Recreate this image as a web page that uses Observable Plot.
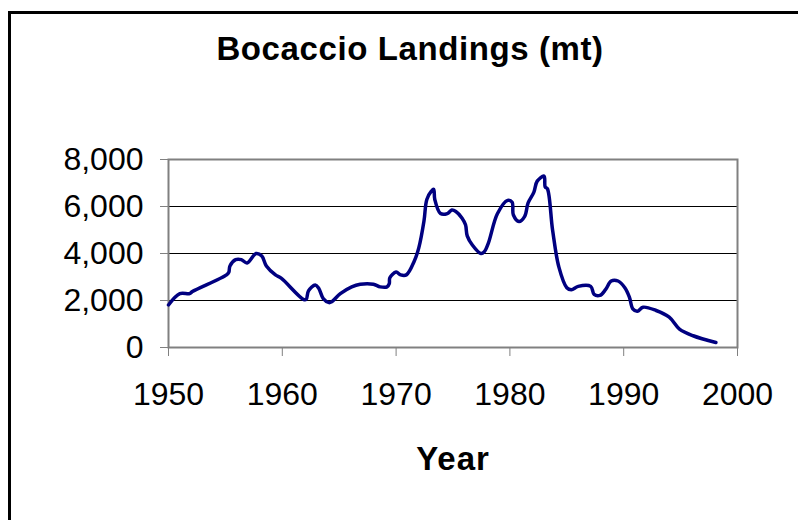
<!DOCTYPE html>
<html>
<head>
<meta charset="utf-8">
<script src="https://cdn.jsdelivr.net/npm/d3@7"></script>
<script src="https://cdn.jsdelivr.net/npm/@observablehq/plot@0.6"></script>
<style>
  html, body { margin: 0; padding: 0; background: #fff; }
  body { width: 798px; height: 520px; overflow: hidden; position: relative; font-family: "Liberation Sans", Arial, sans-serif; }
  #border { position: absolute; left: 8px; top: 11px; width: 900px; height: 700px; border-left: 3px solid #000; border-top: 3px solid #000; box-sizing: border-box; }
  #title { position: absolute; left: 410px; top: 32px; transform: translateX(-50%); font-size: 33px; line-height: 33px; font-weight: bold; white-space: nowrap; letter-spacing: 0.6px; }
  #xlabel { position: absolute; left: 453px; top: 442px; transform: translateX(-50%); font-size: 33px; line-height: 33px; font-weight: bold; white-space: nowrap; letter-spacing: 1px; }
  #chart { position: absolute; left: 0; top: 0; }
</style>
</head>
<body>
<div id="border"></div>
<div id="chart"></div>
<div id="title">Bocaccio Landings (mt)</div>
<div id="xlabel">Year</div>
<script>
const years = [1950, 1951.0, 1951.85, 1952.1, 1955.1, 1955.3, 1955.4, 1955.9, 1956.4, 1956.9, 1957.7, 1958.2, 1958.6, 1959.4, 1959.9, 1961.85, 1962.1, 1962.3, 1962.9, 1963.2, 1963.6, 1964.1, 1964.35, 1965.1, 1966.1, 1966.85, 1968.0, 1968.6, 1969.2, 1969.4, 1969.45, 1970.0, 1970.4, 1970.9, 1971.6, 1972.0, 1972.45, 1972.7, 1973.1, 1973.3, 1973.4, 1973.9, 1974.5, 1974.9, 1975.25, 1975.8, 1976.1, 1976.25, 1976.7, 1977.45, 1977.75, 1978.1, 1978.9, 1979.8, 1980.2, 1980.3, 1980.8, 1981.3, 1981.6, 1982.1, 1982.4, 1983.0, 1983.1, 1983.3, 1983.75, 1984.3, 1985.0, 1985.4, 1986.0, 1987.1, 1987.4, 1987.9, 1988.4, 1988.9, 1989.5, 1990.1, 1990.5, 1990.8, 1991.2, 1991.7, 1992.85, 1994.0, 1994.9, 1996.1, 1998.1];
const landings = [1810, 2290, 2290, 2380, 3090, 3200, 3470, 3740, 3740, 3600, 4000, 3890, 3470, 3090, 2950, 2050, 2050, 2410, 2660, 2520, 2080, 1910, 1950, 2290, 2580, 2690, 2690, 2580, 2580, 2720, 2970, 3210, 3090, 3090, 3680, 4250, 5380, 6300, 6650, 6730, 6300, 5700, 5700, 5850, 5790, 5505, 5220, 4750, 4360, 4000, 4075, 4430, 5690, 6260, 6180, 5650, 5360, 5580, 6150, 6600, 7080, 7290, 6835, 6750, 5000, 3430, 2545, 2460, 2600, 2600, 2260, 2215, 2460, 2830, 2830, 2545, 2145, 1645, 1545, 1715, 1575, 1290, 785, 500, 215];
const xTicks = [1950, 1960, 1970, 1980, 1990, 2000];
const yTicks = [0, 2000, 4000, 6000, 8000];
const gridValues = [2000, 4000, 6000];

const data = years.map((y, i) => ({year: y, value: landings[i]}));
const fmt = d3.format(",");

const chart = Plot.plot({
  width: 798,
  height: 520,
  marginLeft: 168,
  marginRight: 61,
  marginTop: 159,
  marginBottom: 173,
  style: {fontFamily: "'Liberation Sans', Arial, sans-serif", fontSize: "32px", background: "transparent", overflow: "visible"},
  x: {domain: [1950, 2000]},
  y: {domain: [0, 8000]},
  marks: [
    Plot.ruleY(gridValues, {stroke: "#000", strokeWidth: 1}),
    Plot.frame({stroke: "#808080", strokeWidth: 2}),
    Plot.axisX({ticks: xTicks, tickFormat: d => String(d), tickSize: 9, tickPadding: 26, stroke: "#808080", fill: "#000", fontSize: 32, label: null}),
    Plot.axisY({ticks: yTicks, tickFormat: fmt, tickSize: 8, tickPadding: 17, stroke: "#808080", fill: "#000", fontSize: 32, label: null}),
    Plot.line(data, {x: "year", y: "value", stroke: "#000080", strokeWidth: 3.5, curve: "catmull-rom", strokeLinejoin: "round"})
  ]
});
document.getElementById("chart").appendChild(chart);
</script>
</body>
</html>
